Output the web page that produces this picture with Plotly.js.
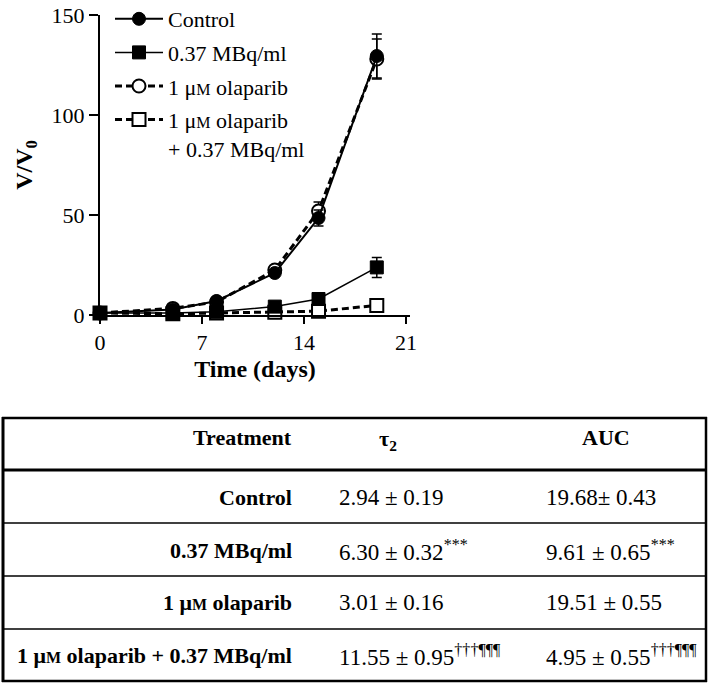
<!DOCTYPE html>
<html><head><meta charset="utf-8">
<script src="https://cdn.plot.ly/plotly-3.0.1.min.js"></script>
<style>html,body{margin:0;padding:0;background:#fff}</style>
</head><body><div id="chart" style="width:709px;height:683px"></div>
<script>
// ---- data ----
const days = [0, 5, 8, 12, 15, 19];
const seriesNames = ['Control', '0.37 MBq/ml', '1 μ<span style="font-size:16px">M</span> olaparib', '1 μ<span style="font-size:16px">M</span> olaparib<br>+ 0.37 MBq/ml'];
const control = [1, 2.8, 7, 21, 48.5, 129.5];
const controlErr = [0.2, 0.5, 1, 1.5, 4, 11];
const mbq = [1, 1, 1.6, 4.2, 8, 23.8];
const mbqErr = [0.1, 0.2, 0.3, 0.7, 1.5, 5];
const olap = [1, 3.3, 6.5, 22.5, 52, 128];
const olapErr = [0.2, 0.5, 1, 1.5, 4.5, 10];
const combo = [1, 0.6, 1, 1.4, 1.9, 4.8];
const comboErr = [0.1, 0.1, 0.2, 0.3, 0.5, 1.5];
const xTicks = [0, 7, 14, 21];
const yTicks = [0, 50, 100, 150];

const tableHeader = ['Treatment', 'τ<sub>2</sub>', 'AUC'];
const treatments = ['Control', '0.37 MBq/ml', '1 μ<span style="font-size:16px">M</span> olaparib', '1 μ<span style="font-size:16px">M</span> olaparib + 0.37 MBq/ml'];
const tau2 = ['2.94 ± 0.19', '6.30 ± 0.32<sup>***</sup>', '3.01 ± 0.16', '11.55 ± 0.95<sup>†††¶¶¶</sup>'];
const auc = ['19.68± 0.43', '9.61 ± 0.65<sup>***</sup>', '19.51 ± 0.55', '4.95 ± 0.55<sup>†††¶¶¶</sup>'];

// ---- layout helpers (pixel -> paper) ----
const L = 100, T = 15, PW = 310, PH = 300, W = 709, H = 683;
const fx = p => (p - L) / PW;
const fy = p => (T + PH - p) / PH;
const FONT = '"Liberation Serif", "Times New Roman", serif';

function errbar(arr) {
  return {type: 'data', array: arr, visible: true, color: '#000', thickness: 1.5, width: 5};
}

const traces = [
  {x: days, y: olap, name: seriesNames[2], legendrank: 3, legendgroup: 'c',
   mode: 'lines+markers', cliponaxis: false,
   line: {color: '#000', width: 3, dash: '7px,4px'},
   marker: {symbol: 'circle', size: 13, color: '#fff', line: {color: '#000', width: 2}},
   error_y: errbar(olapErr)},
  {x: days, y: combo, name: seriesNames[3], legendrank: 4, legendgroup: 'd',
   mode: 'lines+markers', cliponaxis: false,
   line: {color: '#000', width: 3, dash: '7px,4px'},
   marker: {symbol: 'square', size: 13, color: '#fff', line: {color: '#000', width: 2}},
   error_y: errbar(comboErr)},
  {x: days, y: control, name: seriesNames[0], legendrank: 1, legendgroup: 'a',
   mode: 'lines+markers', cliponaxis: false,
   line: {color: '#000', width: 2},
   marker: {symbol: 'circle', size: 13, color: '#000', line: {color: '#000', width: 1}},
   error_y: errbar(controlErr)},
  {x: days, y: mbq, name: seriesNames[1], legendrank: 2, legendgroup: 'b',
   mode: 'lines+markers', cliponaxis: false,
   line: {color: '#000', width: 1.5},
   marker: {symbol: 'square', size: 13, color: '#000', line: {color: '#000', width: 1}},
   error_y: errbar(mbqErr)}
];

// ---- table shapes & annotations ----
const shapes = [];
function hline(y, w) { shapes.push({type: 'line', xref: 'paper', yref: 'paper', x0: fx(2), x1: fx(707), y0: fy(y), y1: fy(y), line: {color: '#000', width: w}}); }
function vline(x, w) { shapes.push({type: 'line', xref: 'paper', yref: 'paper', x0: fx(x), x1: fx(x), y0: fy(417), y1: fy(682), line: {color: '#000', width: w}}); }
hline(418, 2.5); hline(470, 3); hline(523, 1.5); hline(576, 1.5); hline(629, 1.5); hline(681, 2.5);
vline(3, 3); vline(706, 2.5);

const annotations = [];
function ann(text, x, y, anchor, bold, size) {
  annotations.push({xref: 'paper', yref: 'paper', x: fx(x), y: fy(y), xanchor: anchor, yanchor: 'middle',
    text: bold ? '<b>' + text + '</b>' : text, showarrow: false,
    font: {family: FONT, size: size || 22, color: '#000'}});
}
ann(tableHeader[0], 294, 437, 'right', true);
ann(tableHeader[1], 388, 440, 'center', true);
ann(tableHeader[2], 606, 437, 'center', true);
const rowY = [497, 550, 602, 655];
treatments.forEach((t, i) => {
  ann(t, 294, rowY[i], 'right', true);
  ann(tau2[i], 337, rowY[i], 'left', false, 23);
  ann(auc[i], 544, rowY[i], 'left', false, 23);
});

const layout = {
  width: W, height: H,
  margin: {l: L, r: W - L - PW, t: T, b: H - T - PH, autoexpand: false},
  paper_bgcolor: '#fff', plot_bgcolor: '#fff',
  font: {family: FONT, size: 22, color: '#000'},
  showlegend: true,
  legend: {x: fx(110), y: fy(-2), xanchor: 'left', yanchor: 'top', bgcolor: 'rgba(0,0,0,0)',
    font: {family: FONT, size: 22, color: '#000'}, tracegroupgap: 2, valign: 'top', itemwidth: 48},
  xaxis: {range: [0, 21.28], tickvals: xTicks, ticktext: xTicks.map(String),
    showline: true, linecolor: '#000', linewidth: 2, ticks: 'outside', ticklen: 7, tickwidth: 2, tickcolor: '#000',
    showgrid: false, zeroline: false, fixedrange: true,
    tickfont: {family: FONT, size: 22},
    title: {text: '<b>Time (days)</b>', font: {family: FONT, size: 24}, standoff: 6}},
  yaxis: {range: [0, 150], tickvals: yTicks, ticktext: yTicks.map(String),
    showline: true, linecolor: '#000', linewidth: 2, ticks: 'outside', ticklen: 9, tickwidth: 2, tickcolor: '#000',
    showgrid: false, zeroline: false, fixedrange: true,
    tickfont: {family: FONT, size: 22},
    title: {text: '<b>V/V<sub>0</sub></b>', font: {family: FONT, size: 24}, standoff: 12}},
  shapes: shapes,
  annotations: annotations
};

Plotly.newPlot('chart', traces, layout, {displayModeBar: false, staticPlot: true});
</script></body></html>
